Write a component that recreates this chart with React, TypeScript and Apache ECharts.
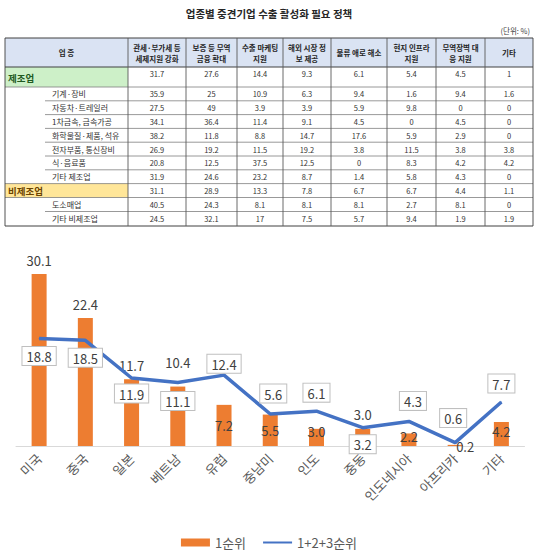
import React, { useEffect, useRef } from "react";
import * as echarts from "echarts";

const FONT = '"Noto Sans CJK KR", "Noto Sans", sans-serif';

// ---------- Table data ----------
const tableTitle = "업종별 중견기업 수출 활성화 필요 정책";
const unitLabel = "(단위: %)";
const tableHeaders = [
  "업 종",
  "관세·부가세 등\n세제지원 강화",
  "보증 등 무역\n금융 확대",
  "수출 마케팅\n지원",
  "해외 시장 정\n보 제공",
  "물류 애로 해소",
  "현지 인프라\n지원",
  "무역장벽 대\n응 지원",
  "기타",
];
const rowNames = [
  "제조업",
  "기계·장비",
  "자동차·트레일러",
  "1차금속, 금속가공",
  "화학물질·제품, 석유",
  "전자부품, 통신장비",
  "식·음료품",
  "기타 제조업",
  "비제조업",
  "도소매업",
  "기타 비제조업",
];
const groupRows = ["제조업", "비제조업"];
const rowManufacturing = [31.7, 27.6, 14.4, 9.3, 6.1, 5.4, 4.5, 1];
const rowMachinery = [35.9, 25, 10.9, 6.3, 9.4, 1.6, 9.4, 1.6];
const rowAuto = [27.5, 49, 3.9, 3.9, 5.9, 9.8, 0, 0];
const rowMetal = [34.1, 36.4, 11.4, 9.1, 4.5, 0, 4.5, 0];
const rowChemical = [38.2, 11.8, 8.8, 14.7, 17.6, 5.9, 2.9, 0];
const rowElectronics = [26.9, 19.2, 11.5, 19.2, 3.8, 11.5, 3.8, 3.8];
const rowFood = [20.8, 12.5, 37.5, 12.5, 0, 8.3, 4.2, 4.2];
const rowOtherMfg = [31.9, 24.6, 23.2, 8.7, 1.4, 5.8, 4.3, 0];
const rowNonMfg = [31.1, 28.9, 13.3, 7.8, 6.7, 6.7, 4.4, 1.1];
const rowWholesale = [40.5, 24.3, 8.1, 8.1, 8.1, 2.7, 8.1, 0];
const rowOtherNonMfg = [24.5, 32.1, 17, 7.5, 5.7, 9.4, 1.9, 1.9];
const tableValues = [
  rowManufacturing,
  rowMachinery,
  rowAuto,
  rowMetal,
  rowChemical,
  rowElectronics,
  rowFood,
  rowOtherMfg,
  rowNonMfg,
  rowWholesale,
  rowOtherNonMfg,
];

// ---------- Chart data ----------
const regions = ["미국", "중국", "일본", "베트남", "유럽", "중남미", "인도", "중동", "인도네시아", "아프리카", "기타"];
const firstRank = [30.1, 22.4, 11.7, 10.4, 7.2, 5.5, 3.0, 3.0, 2.2, 0.2, 4.2];
const top3Rank = [18.8, 18.5, 11.9, 11.1, 12.4, 5.6, 6.1, 3.2, 4.3, 0.6, 7.7];
const seriesNames = ["1순위", "1+2+3순위"];

// label placement (styling)
const barLabelPlace: any[] = [
  { position: "top", distance: 7 },
  { position: "top", distance: 7 },
  { position: "top", distance: 7 },
  { position: "top", distance: 18 },
  { position: "inside" },
  { position: "inside" },
  { position: "inside", offset: [0, -6] },
  { position: "top", distance: 8 },
  { position: "inside", offset: [0, -3] },
  { position: "inside", offset: [10, 1] },
  { position: "inside", offset: [0, -3] },
];
const lineLabelPlace: any[] = [
  { position: "bottom", distance: 8 },
  { position: "bottom", distance: 8 },
  { position: "bottom", distance: 6 },
  { position: "bottom", distance: 9 },
  { position: "top", distance: 2 },
  { position: "top", distance: 11, offset: [3, 0] },
  { position: "top", distance: 9 },
  { position: "bottom", distance: 7 },
  { position: "top", distance: 11, offset: [4, 0] },
  { position: "top", distance: 15, offset: [-2, 0] },
  { position: "top", distance: 9 },
];

function fmtCell(v: number) {
  return String(v);
}

function buildTableGraphics() {
  const g: any[] = [];
  const colX = [5, 128, 186, 237, 283, 331, 387, 436, 485, 533];
  const headTop = 38;
  const headBottom = 67;
  const rowY = [67, 87, 100.8, 114.6, 128.4, 142.2, 156, 169.8, 183.6, 197.5, 211.5, 226];
  const left = colX[0];
  const right = colX[colX.length - 1];
  const bottom = rowY[rowY.length - 1];

  g.push({
    type: "text",
    silent: true,
    style: {
      text: tableTitle,
      x: 269,
      y: 13,
      align: "center",
      verticalAlign: "middle",
      fill: "#262626",
      font: `bold 10.5px ${FONT}`,
    },
  });
  g.push({
    type: "text",
    silent: true,
    style: {
      text: unitLabel,
      x: 530,
      y: 30,
      align: "right",
      verticalAlign: "middle",
      fill: "#404040",
      font: `7.5px ${FONT}`,
    },
  });

  g.push({
    type: "rect",
    silent: true,
    shape: { x: left, y: headTop, width: right - left, height: headBottom - headTop },
    style: { fill: "#dae3f3" },
  });
  rowNames.forEach((name, i) => {
    const gi = groupRows.indexOf(name);
    if (gi >= 0) {
      g.push({
        type: "rect",
        silent: true,
        shape: { x: colX[0], y: rowY[i], width: colX[1] - colX[0], height: rowY[i + 1] - rowY[i] },
        style: { fill: gi === 0 ? "#cdf0c8" : "#ffe699" },
      });
    }
  });

  tableHeaders.forEach((h, c) => {
    g.push({
      type: "text",
      silent: true,
      style: {
        text: h,
        x: (colX[c] + colX[c + 1]) / 2,
        y: (headTop + headBottom) / 2,
        align: "center",
        verticalAlign: "middle",
        fill: "#262626",
        font: `bold 7.5px ${FONT}`,
        lineHeight: 11,
      },
    });
  });

  rowNames.forEach((name, i) => {
    const gi = groupRows.indexOf(name);
    const top = rowY[i];
    const bot = rowY[i + 1];
    const mid = (top + bot) / 2;
    if (gi >= 0) {
      g.push({
        type: "text",
        silent: true,
        style: {
          text: name,
          x: 8,
          y: gi === 0 ? mid + 1 : mid,
          align: "left",
          verticalAlign: "middle",
          fill: gi === 0 ? "#1f5a1f" : "#6b4300",
          font: `bold 9.5px ${FONT}`,
        },
      });
    } else {
      g.push({
        type: "text",
        silent: true,
        style: {
          text: name,
          x: 52,
          y: mid,
          align: "left",
          verticalAlign: "middle",
          fill: "#333",
          font: `8px ${FONT}`,
        },
      });
    }
    tableValues[i].forEach((v, c) => {
      g.push({
        type: "text",
        silent: true,
        style: {
          text: fmtCell(v),
          x: (colX[c + 1] + colX[c + 2]) / 2,
          y: i === 0 ? top + 6 : mid,
          align: "center",
          verticalAlign: "middle",
          fill: "#333",
          font: `7.5px ${FONT}`,
        },
      });
    });
  });

  const isGroup = (i: number) => groupRows.indexOf(rowNames[i]) >= 0;
  [headTop, headBottom].forEach((y) => {
    g.push({
      type: "line",
      silent: true,
      shape: { x1: left, y1: y, x2: right, y2: y },
      style: { stroke: "#404040", lineWidth: 1 },
    });
  });
  for (let i = 1; i < rowNames.length; i++) {
    const sub = !isGroup(i) && !isGroup(i - 1);
    g.push({
      type: "line",
      silent: true,
      shape: { x1: sub ? 45 : left, y1: rowY[i], x2: right, y2: rowY[i] },
      style: { stroke: "#7f7f7f", lineWidth: 0.8 },
    });
  }
  g.push({
    type: "line",
    silent: true,
    shape: { x1: left, y1: bottom, x2: right, y2: bottom },
    style: { stroke: "#404040", lineWidth: 1 },
  });
  colX.forEach((x, c) => {
    g.push({
      type: "line",
      silent: true,
      shape: { x1: x, y1: headTop, x2: x, y2: bottom },
      style: { stroke: c === 0 || c === colX.length - 1 ? "#404040" : "#595959", lineWidth: 0.9 },
    });
  });
  return g;
}

export default function App() {
  const ref = useRef<HTMLDivElement>(null);
  useEffect(() => {
    if (!ref.current) return;
    const chart = echarts.init(ref.current, undefined, { renderer: "svg" });
    const option: any = {
      animation: false,
      backgroundColor: "#ffffff",
      textStyle: { fontFamily: FONT },
      graphic: buildTableGraphics(),
      grid: { left: 16, right: 13.5, top: 246, bottom: 114, containLabel: false },
      xAxis: {
        type: "category",
        data: regions,
        axisLine: { lineStyle: { color: "#d9d9d9", width: 1 } },
        axisTick: { show: false },
        axisLabel: {
          rotate: 45,
          interval: 0,
          fontSize: 13,
          color: "#595959",
          margin: 10,
          fontFamily: FONT,
        },
      },
      yAxis: { type: "value", min: 0, max: 35, show: false, splitLine: { show: false } },
      legend: {
        bottom: 6,
        left: "center",
        itemWidth: 29,
        itemHeight: 8,
        itemGap: 16,
        textStyle: { fontSize: 13, color: "#595959", fontFamily: FONT },
        data: [
          { name: seriesNames[0], icon: "rect" },
          { name: seriesNames[1], itemStyle: { opacity: 0 } },
        ],
      },
      series: [
        {
          name: seriesNames[0],
          type: "bar",
          barWidth: 15,
          itemStyle: { color: "#ED7D31" },
          label: {
            show: true,
            fontSize: 13,
            color: "#404040",
            fontFamily: FONT,
            formatter: (p: any) => Number(p.value).toFixed(1),
          },
          data: firstRank.map((v, i) => ({ value: v, label: barLabelPlace[i] })),
          z: 2,
        },
        {
          name: seriesNames[1],
          type: "line",
          symbol: "circle",
          symbolSize: 1,
          showSymbol: true,
          lineStyle: { color: "#4472C4", width: 3.5 },
          itemStyle: { color: "#4472C4" },
          label: {
            show: true,
            fontSize: 13,
            color: "#404040",
            fontFamily: FONT,
            backgroundColor: "#ffffff",
            borderColor: "#bfbfbf",
            borderWidth: 1,
            padding: [3, 4, 2, 4],
            formatter: (p: any) => Number(p.value).toFixed(1),
          },
          data: top3Rank.map((v, i) => ({ value: v, label: lineLabelPlace[i] })),
          z: 3,
        },
      ],
    };
    chart.setOption(option);
    return () => chart.dispose();
  }, []);
  return (
    <div
      ref={ref}
      style={{ position: "fixed", left: 0, top: 0, width: 538, height: 560, background: "#fff" }}
    />
  );
}
